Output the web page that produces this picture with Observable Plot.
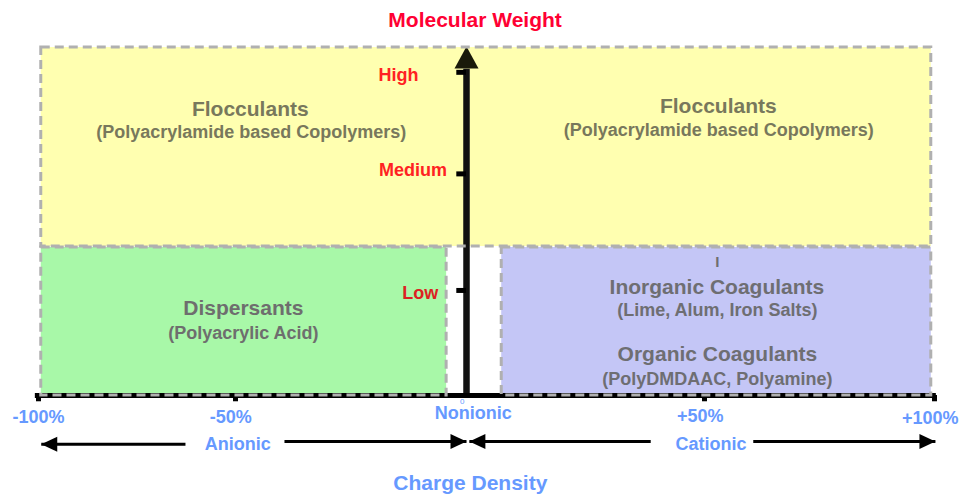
<!DOCTYPE html>
<html>
<head>
<meta charset="utf-8">
<script src="https://cdn.jsdelivr.net/npm/d3@7"></script>
<script src="https://cdn.jsdelivr.net/npm/@observablehq/plot@0.6"></script>
<style>
  html, body { margin: 0; padding: 0; background: #fff; }
</style>
</head>
<body>
<div id="chart"></div>
<script>
// ---- Data (charge density %, molecular weight units 0–100) ----
const chargeTicks = [-100, -50, 50, 100];
const chargeLabels = [
  {label: "-100%", x: -100, y: -6.3},
  {label: "-50%", x: -51.2, y: -6.3},
  {label: "Nonionic", x: 1.4, y: -5.2},
  {label: "+50%", x: 49.1, y: -6.0},
  {label: "+100%", x: 99.1, y: -6.5}
];
const zeroLabel = [{label: "0", x: -0.9, y: -1.7}];
const chargeGroups = [
  {label: "Anionic", x: -49.5, y: -14.0},
  {label: "Cationic", x: 51.4, y: -14.0}
];
// x1 = tail, x2 = tip
const chargeArrows = [
  {x1: -62.7, x2: -99.3, y: -14.0},
  {x1: -39.4, x2: 0.0, y: -13.2},
  {x1: 38.7, x2: 0.6, y: -13.2},
  {x1: 60.6, x2: 100.2, y: -13.2}
];
const mwTicks = [92.6, 63.5, 30.1];
const mwLabels = [
  {label: "High", x: -14.7, y: 91.8},
  {label: "Medium", x: -11.6, y: 64.5},
  {label: "Low", x: -10.0, y: 29.4}
];
const regions = [
  {name: "Flocculants", x1: -99.3, x2: 99.3, y1: 42.7, y2: 99.7},
  {name: "Dispersants", x1: -99.3, x2: -4.3, y1: 0, y2: 42.4},
  {name: "Coagulants", x1: 7.4, x2: 99.3, y1: 0, y2: 42.4}
];
const regionTitles = [
  {label: "Flocculants", region: "Flocculants", x: -46.8, y: 82.1},
  {label: "Flocculants", region: "Flocculants", x: 53.0, y: 82.9},
  {label: "Dispersants", region: "Dispersants", x: -48.3, y: 25.1},
  {label: "Inorganic Coagulants", region: "Coagulants", x: 52.7, y: 30.9},
  {label: "Organic Coagulants", region: "Coagulants", x: 52.8, y: 11.7}
];
const regionSubs = [
  {label: "(Polyacrylamide based Copolymers)", region: "Flocculants", x: -46.6, y: 75.4},
  {label: "(Polyacrylamide based Copolymers)", region: "Flocculants", x: 53.1, y: 76.1},
  {label: "(Polyacrylic Acid)", region: "Dispersants", x: -48.3, y: 17.9},
  {label: "(Lime, Alum, Iron Salts)", region: "Coagulants", x: 52.8, y: 24.4},
  {label: "(PolyDMDAAC, Polyamine)", region: "Coagulants", x: 52.8, y: 4.6}
];
const regionMarker = [{label: "I", region: "Coagulants", x: 52.8, y: 38.1}];
const yTitle = [{label: "Molecular Weight", x: 1.8, y: 107.6}];
const xTitle = [{label: "Charge Density", x: 0.8, y: -25.2}];
const axisTip = [{x: 0, y: 100}];

// ---- Styles ----
const regionFill = {Flocculants: "#ffffb0", Dispersants: "#a8f8a8", Coagulants: "#c4c6f6"};
const regionText = {Flocculants: "#78785c", Dispersants: "#6e6e6e", Coagulants: "#6e6e72"};

// ---- Custom arrowhead symbols (tip at the anchor point) ----
const headUp = {draw(c) { c.moveTo(0, 0); c.lineTo(-12, 22); c.lineTo(12, 22); c.closePath(); }};
const headLeft = {draw(c) { c.moveTo(0, 0); c.lineTo(16, -7.5); c.lineTo(16, 7.5); c.closePath(); }};
const headRight = {draw(c) { c.moveTo(0, 0); c.lineTo(-16, -7.5); c.lineTo(-16, 7.5); c.closePath(); }};

const font = "'Liberation Sans', Arial, Helvetica, sans-serif";
const blue = "#6699ff";
const red = "#ff2222";

const svg = Plot.plot({
  width: 959,
  height: 495,
  x: {type: "linear", domain: [-100, -50, 0, 50, 100], range: [38, 235, 466, 704, 934], axis: null},
  y: {type: "linear", domain: [0, 100], range: [395, 46], axis: null},
  color: {type: "identity"},
  style: {fontFamily: font, background: "white", overflow: "visible"},
  marks: [
    // region fills
    Plot.rect(regions, {x1: "x1", x2: "x2", y1: "y1", y2: "y2", fill: d => regionFill[d.name]}),
    // region texts
    Plot.text(regionTitles, {x: "x", y: "y", text: "label", fontSize: 21, fontWeight: "bold", fill: d => regionText[d.region]}),
    Plot.text(regionSubs, {x: "x", y: "y", text: "label", fontSize: 18, fontWeight: "bold", fill: d => regionText[d.region]}),
    Plot.text(regionMarker, {x: "x", y: "y", text: "label", fontSize: 15, fontWeight: "bold", fill: d => regionText[d.region]}),
    // molecular weight axis
    Plot.ruleX([0], {x: d => d, y1: 0, y2: 93.5, stroke: "#111", strokeWidth: 6.5}),
    Plot.dot(axisTip, {x: "x", y: "y", symbol: headUp, fill: "#1a1a0a", stroke: "none"}),
    Plot.ruleY(mwTicks, {y: d => d, x1: -2.1, x2: 0, stroke: "black", strokeWidth: 5}),
    Plot.text(mwLabels, {x: "x", y: "y", text: "label", fontSize: 18, fontWeight: "bold",
      fill: d => d.label === "Low" ? "#dd2222" : red}),
    // charge density axis
    Plot.ruleY([0], {y: d => d, x1: -100.8, x2: 100.4, stroke: "black", strokeWidth: 5}),
    Plot.ruleX(chargeTicks, {x: d => d, y1: 0, y2: -1.8, stroke: "black", strokeWidth: 5}),
    // dashed region borders
    Plot.rect(regions, {x1: "x1", x2: "x2", y1: "y1", y2: "y2", fill: "none",
      stroke: "#b0b0b0", strokeWidth: 3, strokeDasharray: "9,5"}),
    // charge labels
    Plot.text(chargeLabels, {x: "x", y: "y", text: "label", fontSize: 18, fontWeight: "bold", fill: blue}),
    Plot.text(zeroLabel, {x: "x", y: "y", text: "label", fontSize: 8, fill: blue}),
    Plot.text(chargeGroups, {x: "x", y: "y", text: "label", fontSize: 18, fontWeight: "bold", fill: blue}),
    Plot.link(chargeArrows, {x1: "x1", x2: "x2", y1: "y", y2: "y", stroke: "black", strokeWidth: 3}),
    Plot.dot(chargeArrows.filter(d => d.x2 < d.x1), {x: "x2", y: "y", symbol: headLeft, fill: "black", stroke: "none"}),
    Plot.dot(chargeArrows.filter(d => d.x2 > d.x1), {x: "x2", y: "y", symbol: headRight, fill: "black", stroke: "none"}),
    // titles
    Plot.text(yTitle, {x: "x", y: "y", text: "label", fontSize: 21, fontWeight: "bold", fill: "#ff0033"}),
    Plot.text(xTitle, {x: "x", y: "y", text: "label", fontSize: 21, fontWeight: "bold", fill: blue})
  ]
});
document.getElementById("chart").appendChild(svg);
</script>
</body>
</html>
